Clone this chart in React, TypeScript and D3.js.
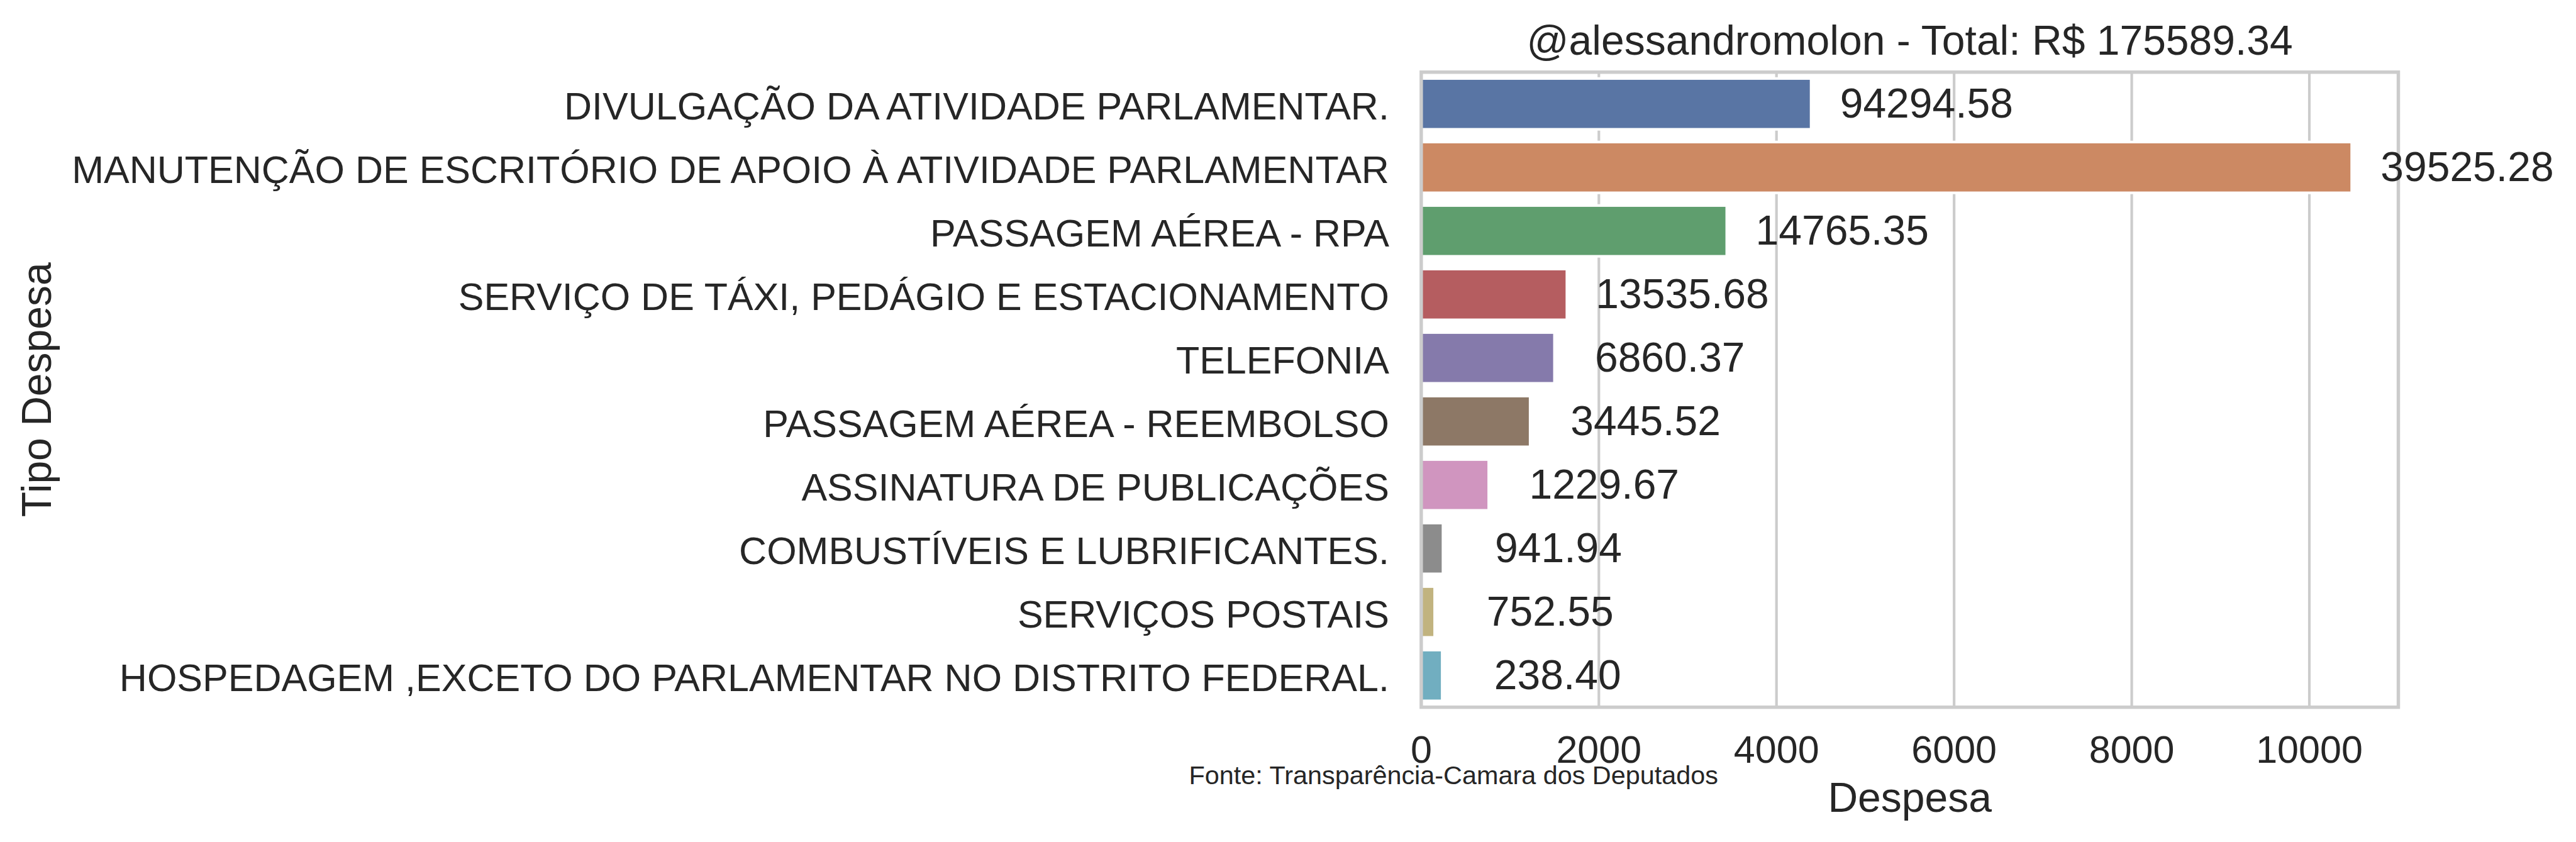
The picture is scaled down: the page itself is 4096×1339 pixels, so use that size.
import React from 'react';
import * as d3 from 'd3';

// chart values
const categories = [
  'DIVULGAÇÃO DA ATIVIDADE PARLAMENTAR.',
  'MANUTENÇÃO DE ESCRITÓRIO DE APOIO À ATIVIDADE PARLAMENTAR',
  'PASSAGEM AÉREA - RPA',
  'SERVIÇO DE TÁXI, PEDÁGIO E ESTACIONAMENTO',
  'TELEFONIA',
  'PASSAGEM AÉREA - REEMBOLSO',
  'ASSINATURA DE PUBLICAÇÕES',
  'COMBUSTÍVEIS E LUBRIFICANTES.',
  'SERVIÇOS POSTAIS',
  'HOSPEDAGEM ,EXCETO DO PARLAMENTAR NO DISTRITO FEDERAL.',
];
const barValues = [4390, 10477, 3440, 1640, 1500, 1226, 760, 245, 151, 236];
const valueLabels = [
  '94294.58', '39525.28', '14765.35', '13535.68', '6860.37',
  '3445.52', '1229.67', '941.94', '752.55', '238.40',
];
const barColors = [
  '#5975a4', '#cc8963', '#5f9e6e', '#b55d60', '#857aab',
  '#8d7866', '#d095bf', '#8c8c8c', '#c1b37f', '#71aec0',
];
const xTicks = [0, 2000, 4000, 6000, 8000, 10000];
const titleText = '@alessandromolon - Total: R$ 175589.34';
const xLabel = 'Despesa';
const yLabel = 'Tipo Despesa';
const sourceText = 'Fonte: Transparência-Camara dos Deputados';

const W = 4901;
const S = 4096 / W;
const font = '"Liberation Sans", Arial, sans-serif';
const ink = '#262626';

export default function App() {
  // axes box in reference pixels
  const left = 2704;
  const right = 4563;
  const top = 137.3;
  const bottom = 1345.7;

  const x = d3.scaleLinear().domain([0, 11002]).range([left, right]);
  const y = d3
    .scaleBand<string>()
    .domain(categories)
    .range([top, bottom])
    .paddingInner(0.2)
    .paddingOuter(0.1);

  const midX = (left + right) / 2;
  const midY = (top + bottom) / 2;

  return (
    <svg
      width={4096}
      height={1339}
      style={{ position: 'absolute', left: 0, top: 0, background: '#fff' }}
      fontFamily={font}
    >
      <rect width={4096} height={1339} fill="#fff" />
      <g transform={`scale(${S})`}>
        {/* grid */}
        {xTicks.map((t) => (
          <line
            key={'g' + t}
            x1={x(t)}
            x2={x(t)}
            y1={top}
            y2={bottom}
            stroke="#cccccc"
            strokeWidth={5}
          />
        ))}

        {/* bars */}
        {categories.map((c, i) => (
          <rect
            key={c}
            x={x(0)}
            y={y(c)}
            width={x(barValues[i]) - x(0)}
            height={y.bandwidth()}
            fill={barColors[i]}
            stroke="#ffffff"
            strokeWidth={5}
          />
        ))}

        {/* spines */}
        <rect
          x={left}
          y={top}
          width={right - left}
          height={bottom - top}
          fill="none"
          stroke="#cccccc"
          strokeWidth={6.5}
        />

        {/* value labels */}
        {categories.map((c, i) => (
          <text
            key={'v' + c}
            x={x(barValues[i] + 1300)}
            y={(y(c) as number) + y.bandwidth() / 2}
            dy="0.335em"
            textAnchor="middle"
            fontSize={79}
            fill={ink}
          >
            {valueLabels[i]}
          </text>
        ))}

        {/* y tick labels */}
        {categories.map((c) => (
          <text
            key={'t' + c}
            x={left - 61}
            y={(y(c) as number) + y.bandwidth() / 2}
            dy="0.4em"
            textAnchor="end"
            fontSize={73}
            fill={ink}
          >
            {c}
          </text>
        ))}

        {/* x tick labels */}
        {xTicks.map((t) => (
          <text
            key={'x' + t}
            x={x(t)}
            y={bottom + 106}
            textAnchor="middle"
            fontSize={73}
            fill={ink}
          >
            {t}
          </text>
        ))}

        <text x={midX} y={104} textAnchor="middle" fontSize={79} fill={ink}>
          {titleText}
        </text>
        <text x={midX} y={1545} textAnchor="middle" fontSize={79} fill={ink}>
          {xLabel}
        </text>
        <text
          transform={`translate(97, ${midY}) rotate(-90)`}
          textAnchor="middle"
          fontSize={79}
          fill={ink}
        >
          {yLabel}
        </text>
        <text x={2262} y={1492} fontSize={49.5} fill={ink}>
          {sourceText}
        </text>
      </g>
    </svg>
  );
}
